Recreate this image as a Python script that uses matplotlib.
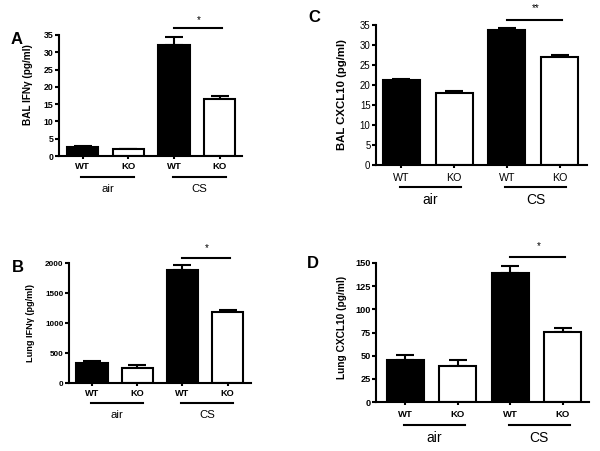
import matplotlib
matplotlib.use("Agg")
import matplotlib.pyplot as plt
from matplotlib.transforms import blended_transform_factory

plt.rcParams['font.family'] = ['Liberation Sans', 'DejaVu Sans']

categories = ["WT", "KO", "WT", "KO"]
groups = ["air", "CS"]
bar_colors = ["black", "white", "black", "white"]

# Panel A: BAL IFNγ
a_vals = [2.7, 1.9, 32.0, 16.6]
a_err = [0.2, 0.2, 2.3, 0.7]
# Panel B: Lung IFNγ
b_vals = [330, 255, 1890, 1180]
b_err = [35, 50, 75, 30]
# Panel C: BAL CXCL10
c_vals = [21.2, 18.1, 33.7, 26.9]
c_err = [0.4, 0.3, 0.5, 0.5]
# Panel D: Lung CXCL10
d_vals = [45, 39, 139, 76]
d_err = [6, 6, 8, 4]

W, H = 600, 451
fig = plt.figure(figsize=(6, 4.51), dpi=100)

def px_axes(left, top, right, bottom):
    return fig.add_axes([left / W, (H - bottom) / H, (right - left) / W, (bottom - top) / H])

def panel(box, vals, err, ylim, yticks, ylabel, letter, letter_xy, ylab_coords,
          width, xlim, tick_fs, xtick_fs, tick_bold, lab_fs, grp_fs, offs, sig_y, star_y, star_txt):
    ax = px_axes(*box)
    hpx = box[3] - box[1]
    x = list(range(len(vals)))
    ax.bar(x, vals, width=width, color=bar_colors, edgecolor='black', linewidth=1.5, zorder=2)
    ax.errorbar(x, vals, yerr=[[0] * len(err), err], fmt='none', ecolor='black',
                elinewidth=1.5, capsize=6.8 * width / 0.7, capthick=1.5, zorder=1)
    ax.set_ylim(*ylim)
    ax.set_xlim(*xlim)
    ax.set_yticks(yticks)
    ax.set_yticklabels([str(t) for t in yticks], fontsize=tick_fs,
                       fontweight='bold' if tick_bold else 'normal')
    ax.set_xticks(x)
    ax.set_xticklabels(categories, fontsize=xtick_fs,
                       fontweight='bold' if tick_bold else 'normal')
    ax.tick_params(axis='x', length=2.2, width=1.5, pad=offs[0])
    ax.tick_params(axis='y', length=3, width=1.5, pad=1)
    for s in ['top', 'right']:
        ax.spines[s].set_visible(False)
    for s in ['left', 'bottom']:
        ax.spines[s].set_linewidth(1.5)
    ax.set_ylabel(ylabel, fontsize=lab_fs, fontweight='bold')
    ax.yaxis.set_label_coords(*ylab_coords)
    tr = blended_transform_factory(ax.transData, ax.transAxes)
    yl = -offs[1] / hpx
    yt = -offs[2] / hpx
    for gi, g in enumerate(groups):
        x0 = 2 * gi
        ax.plot([x0 - 0.03, x0 + 1.13], [yl, yl], color='black', lw=1.5,
                transform=tr, clip_on=False)
        ax.text(x0 + 0.55, yt, g, transform=tr, ha='center', va='center', fontsize=grp_fs)
    ax.plot([2.0, 3.05], [sig_y, sig_y], color='black', lw=1.5, clip_on=False)
    ax.text(2.55, star_y, star_txt, ha='center', va='center', fontsize=7, clip_on=False)
    fig.text(letter_xy[0] / W, 1 - letter_xy[1] / H, letter, fontsize=12,
             fontweight='bold', ha='center', va='center')
    return ax

# Panel A
panel((59, 35, 242, 156), a_vals, a_err, (0, 35), list(range(0, 36, 5)),
      "BAL IFN\u03b3 (pg/ml)", "A", (17, 39), (-0.142, 0.59),
      0.68, (-0.52, 3.49), 6.3, 6.8, True, 7.2, 8.2, (2.3, 21, 33), 37.0, 39.4, "*")
# Panel B
panel((69, 263, 251, 383), b_vals, b_err, (0, 2000), list(range(0, 2001, 500)),
      "Lung IFN\u03b3 (pg/ml)", "B", (18, 268), (-0.187, 0.5),
      0.69, (-0.51, 3.52), 5.9, 6.6, True, 6.6, 8.2, (2.3, 20, 32), 2083, 2250, "*")
# Panel C
panel((376, 25, 587, 165), c_vals, c_err, (0, 35), list(range(0, 36, 5)),
      "BAL CXCL10 (pg/ml)", "C", (314, 18), (-0.137, 0.5),
      0.70, (-0.48, 3.52), 6.9, 7.7, False, 8.2, 10, (3.5, 22, 35), 36.25, 39.3, "**")
# Panel D
panel((376, 263, 589, 402), d_vals, d_err, (0, 150), list(range(0, 151, 25)),
      "Lung CXCL10 (pg/ml)", "D", (313, 263), (-0.136, 0.54),
      0.70, (-0.56, 3.5), 6.6, 6.8, True, 7.3, 10, (3.5, 23, 36), 156.5, 168.5, "*")

fig.savefig("out.png", dpi=100)
